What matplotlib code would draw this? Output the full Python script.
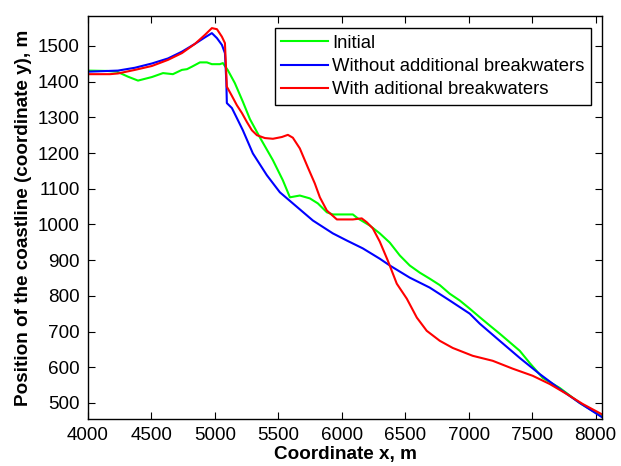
import matplotlib
matplotlib.use('Agg')
import matplotlib.pyplot as plt

plt.rcParams['font.family'] = ['Liberation Sans', 'DejaVu Sans']

# coastline position along the shore, x in m, y in m
x_init = [4000, 4150, 4228, 4315, 4394, 4504, 4591, 4669, 4740, 4780, 4819, 4882, 4937, 4976,
          5039, 5063, 5102, 5157, 5220, 5276, 5354, 5457, 5535, 5591, 5669, 5748, 5811, 5882,
          5929, 6087, 6126, 6220, 6299, 6378, 6457, 6535, 6614, 6693, 6772, 6850, 6929, 7008,
          7087, 7165, 7244, 7323, 7402, 7480, 7583, 7717, 7874, 8050]
y_init = [1431, 1430, 1428, 1414, 1403, 1413, 1424, 1421, 1433, 1435, 1442, 1454, 1454, 1449,
          1449, 1452, 1432, 1396, 1344, 1295, 1244, 1180, 1124, 1076, 1081, 1073, 1059, 1034,
          1028, 1028, 1017, 997, 975, 949, 913, 885, 865, 848, 830, 806, 787, 764,
          740, 717, 694, 670, 646, 612, 570, 542, 500, 462]

x_without = [4000, 4236, 4370, 4504, 4630, 4740, 4843, 4921, 4976, 5016, 5055, 5079, 5090, 5094,
             5134, 5173, 5220, 5299, 5409, 5512, 5614, 5772, 5929, 6039, 6165, 6299, 6378, 6535,
             6693, 6850, 7008, 7087, 7244, 7402, 7559, 7717, 7874, 8050]
y_without = [1428, 1431, 1439, 1451, 1465, 1484, 1506, 1524, 1536, 1522, 1503, 1480, 1400, 1340,
             1326, 1298, 1264, 1199, 1138, 1090, 1059, 1011, 975, 955, 933, 904, 885, 851,
             823, 787, 750, 722, 674, 626, 581, 539, 500, 460]

x_with = [4000, 4173, 4236, 4370, 4504, 4630, 4740, 4843, 4921, 4976, 5016, 5055, 5079, 5094,
          5134, 5173, 5213, 5252, 5291, 5331, 5394, 5457, 5528, 5575, 5614, 5669, 5732, 5787,
          5827, 5882, 5961, 6087, 6157, 6197, 6244, 6299, 6362, 6433, 6512, 6591, 6669, 6772,
          6874, 7031, 7189, 7346, 7504, 7638, 7772, 7898, 8050]
y_with = [1421, 1421, 1423, 1433, 1444, 1461, 1480, 1506, 1531, 1550, 1547, 1526, 1508, 1386,
          1360, 1334, 1312, 1287, 1264, 1250, 1242, 1240, 1245, 1251, 1243, 1213, 1160, 1115,
          1076, 1039, 1014, 1014, 1017, 1006, 989, 952, 899, 834, 792, 739, 702, 674,
          654, 632, 618, 596, 576, 553, 525, 497, 468]

fig = plt.figure(figsize=(6.21, 4.66), dpi=100)
ax = fig.add_axes([0.1417, 0.1009, 0.8277, 0.8648])

ax.plot(x_init, y_init, color=(0, 1, 0), lw=1.5, label='Initial')
ax.plot(x_without, y_without, color=(0, 0, 1), lw=1.5, label='Without additional breakwaters')
ax.plot(x_with, y_with, color=(1, 0, 0), lw=1.5, label='With aditional breakwaters')

ax.set_xlim(4000, 8050)
ax.set_ylim(455, 1584)
ax.set_xticks(range(4000, 8001, 500))
ax.set_yticks(range(500, 1501, 100))
ax.tick_params(direction='in', top=True, right=True, labelsize=13.6, length=5, width=0.8, pad=6)
for s in ax.spines.values():
    s.set_linewidth(1.0)

ax.set_xlabel('Coordinate x, m', fontsize=13.6, fontweight='bold', labelpad=1)
ax.set_ylabel('Position of the coastline (coordinate y), m', fontsize=13.6, fontweight='bold', labelpad=4)

leg = ax.legend(loc='upper right', bbox_to_anchor=(0.9786, 0.970), borderaxespad=0,
                fontsize=13.3, fancybox=False, framealpha=1, edgecolor='black',
                handlelength=2.5, handletextpad=0.25, borderpad=0.35, labelspacing=0.35)
leg.get_frame().set_linewidth(1.0)

fig.savefig('out.png', dpi=100)
